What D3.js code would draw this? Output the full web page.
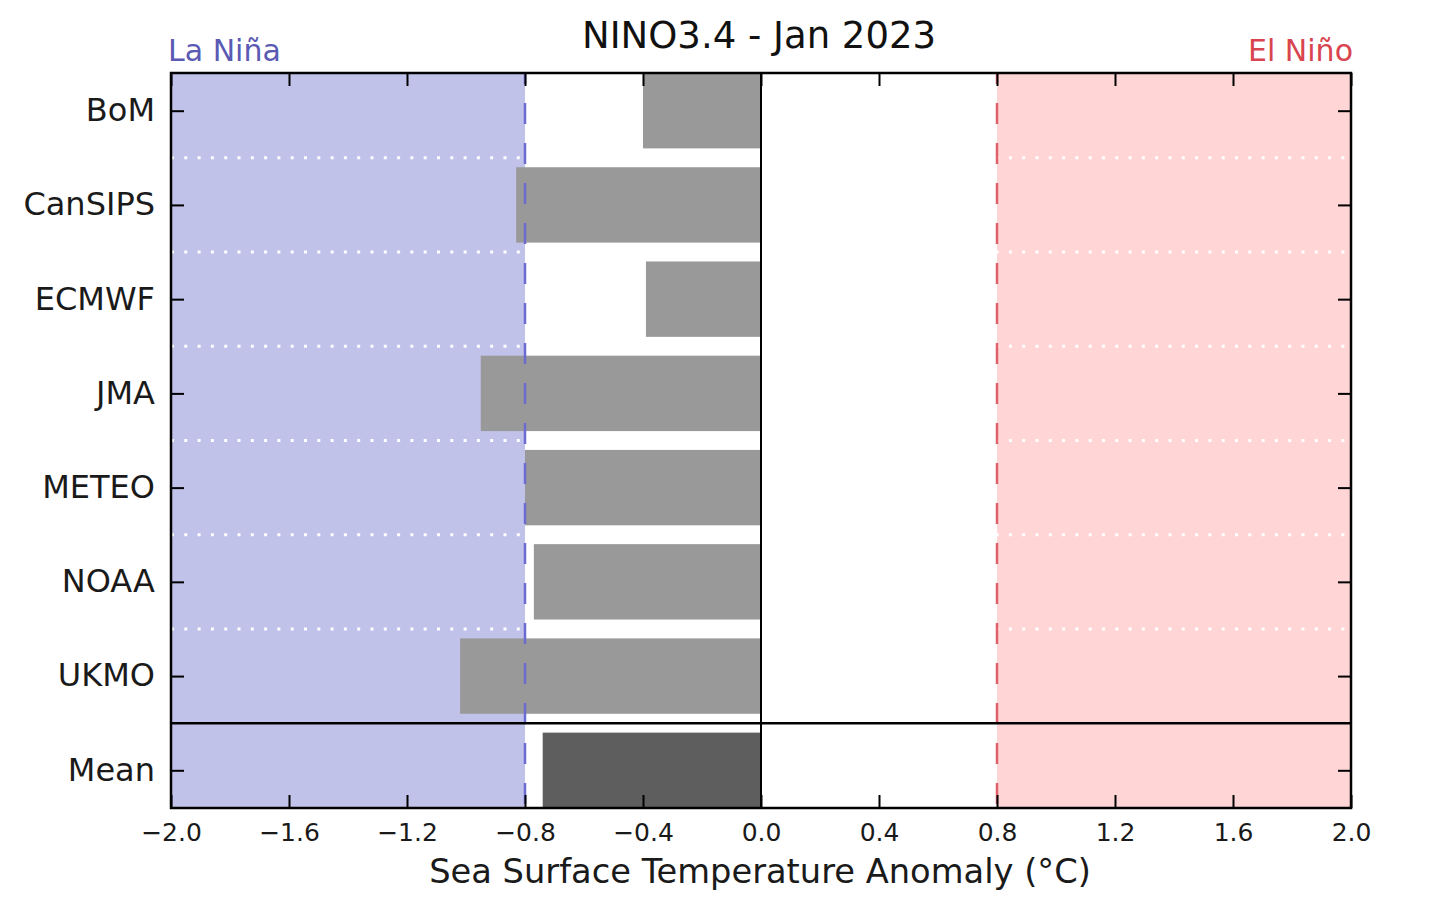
<!DOCTYPE html>
<html>
<head>
<meta charset="utf-8">
<script src="https://cdn.jsdelivr.net/npm/d3@7"></script>
<style>
  body { margin: 0; background: #fff; }
  svg text { font-family: "DejaVu Sans", sans-serif; }
</style>
</head>
<body>
<script>
"use strict";
// model names and Jan 2023 NINO3.4 anomalies
let models = ["BoM", "CanSIPS", "ECMWF", "JMA", "METEO", "NOAA", "UKMO"];
let anomalies = [-0.40, -0.83, -0.39, -0.95, -0.80, -0.77, -1.02];
let meanLabel = "Mean";
let meanValue = -0.74;
let xTicks = [-2.0, -1.6, -1.2, -0.8, -0.4, 0.0, 0.4, 0.8, 1.2, 1.6, 2.0];
let threshold = 0.8;

let W = 1440, H = 904;
let pLeft = 171, pRight = 1351, pTop = 73, pBottom = 808;

let svg = d3.select("body").append("svg")
            .attr("width", W)
            .attr("height", H);

let x = d3.scaleLinear().domain([-2, 2]).range([pLeft, pRight]);
let y = d3.scaleLinear().domain([-0.4, 7.4]).range([pTop, pBottom]);

let labels = models.concat([meanLabel]);
let values = anomalies.concat([meanValue]);

// shaded regions
svg.append("rect")
   .attr("x", x(-2)).attr("y", pTop)
   .attr("width", x(-threshold) - x(-2)).attr("height", pBottom - pTop)
   .attr("fill", "#c0c2ea");
svg.append("rect")
   .attr("x", x(threshold)).attr("y", pTop)
   .attr("width", x(2) - x(threshold)).attr("height", pBottom - pTop)
   .attr("fill", "#ffd5d6");

// white dotted separators between models
svg.append("g").selectAll("line")
   .data(d3.range(models.length - 1))
   .enter()
   .append("line")
   .attr("x1", pLeft).attr("x2", pRight)
   .attr("y1", d => y(d + 0.5)).attr("y2", d => y(d + 0.5))
   .attr("stroke", "#fff")
   .attr("stroke-width", 3)
   .attr("stroke-dasharray", "3,10.3");

// bars
svg.append("g").selectAll("rect")
   .data(values)
   .enter()
   .append("rect")
   .attr("x", d => x(Math.min(d, 0)))
   .attr("width", d => Math.abs(x(d) - x(0)))
   .attr("y", (d, i) => Math.max(y(i - 0.4), pTop))
   .attr("height", (d, i) => Math.min(y(i + 0.4), pBottom) - Math.max(y(i - 0.4), pTop))
   .attr("fill", (d, i) => i === models.length ? "#5e5e5e" : "#999999");

// zero line
svg.append("line")
   .attr("x1", x(0)).attr("x2", x(0))
   .attr("y1", pTop).attr("y2", pBottom)
   .attr("stroke", "#000").attr("stroke-width", 2);

// threshold dashed lines
[[-threshold, "#6b6bd2"], [threshold, "#e0606a"]].forEach(([v, c]) => {
    svg.append("line")
       .attr("x1", x(v)).attr("x2", x(v))
       .attr("y1", pTop).attr("y2", pBottom)
       .attr("stroke", c)
       .attr("stroke-width", 2.5)
       .attr("stroke-dasharray", "21,19")
       .attr("stroke-dashoffset", 10);
});

// separator above mean
svg.append("line")
   .attr("x1", pLeft).attr("x2", pRight)
   .attr("y1", y(models.length - 0.5)).attr("y2", y(models.length - 0.5))
   .attr("stroke", "#000").attr("stroke-width", 2.5);

// axes with inward ticks
let fmt = d3.format(".1f");
let xAxis = svg.append("g")
   .attr("transform", `translate(0,${pBottom})`)
   .call(d3.axisBottom(x).tickValues(xTicks).tickFormat(fmt)
           .tickSizeInner(-13).tickSizeOuter(0).tickPadding(15));
xAxis.selectAll("text").attr("font-size", 25).attr("fill", "#1a1a1a");

svg.append("g")
   .attr("transform", `translate(0,${pTop})`)
   .call(d3.axisTop(x).tickValues(xTicks).tickFormat("")
           .tickSizeInner(-13).tickSizeOuter(0));

let yAxis = svg.append("g")
   .attr("transform", `translate(${pLeft},0)`)
   .call(d3.axisLeft(y).tickValues(d3.range(labels.length))
           .tickFormat(i => labels[i])
           .tickSizeInner(-13).tickSizeOuter(0).tickPadding(16));
yAxis.selectAll("text").attr("font-size", 32).attr("dy", "0.31em").attr("fill", "#1a1a1a");

svg.append("g")
   .attr("transform", `translate(${pRight},0)`)
   .call(d3.axisRight(y).tickValues(d3.range(labels.length)).tickFormat("")
           .tickSizeInner(-13).tickSizeOuter(0));

svg.selectAll(".domain").remove();
svg.selectAll(".tick line").attr("stroke", "#000").attr("stroke-width", 2);

// frame
svg.append("rect")
   .attr("x", pLeft).attr("y", pTop)
   .attr("width", pRight - pLeft).attr("height", pBottom - pTop)
   .attr("fill", "none")
   .attr("stroke", "#000")
   .attr("stroke-width", 2.5);

// texts
svg.append("text")
   .attr("x", (pLeft + pRight) / 2 - 2).attr("y", 48)
   .attr("text-anchor", "middle")
   .attr("font-size", 37)
   .attr("fill", "#111")
   .text("NINO3.4 - Jan 2023");

svg.append("text")
   .attr("x", 168).attr("y", 61)
   .attr("font-size", 30)
   .attr("fill", "#5a5ab4")
   .text("La Niña");

svg.append("text")
   .attr("x", 1353).attr("y", 61)
   .attr("text-anchor", "end")
   .attr("font-size", 30)
   .attr("fill", "#d8454e")
   .text("El Niño");

svg.append("text")
   .attr("x", (pLeft + pRight) / 2 - 1).attr("y", 883)
   .attr("text-anchor", "middle")
   .attr("font-size", 33.7)
   .attr("fill", "#1a1a1a")
   .text("Sea Surface Temperature Anomaly (°C)");
</script>
</body>
</html>
